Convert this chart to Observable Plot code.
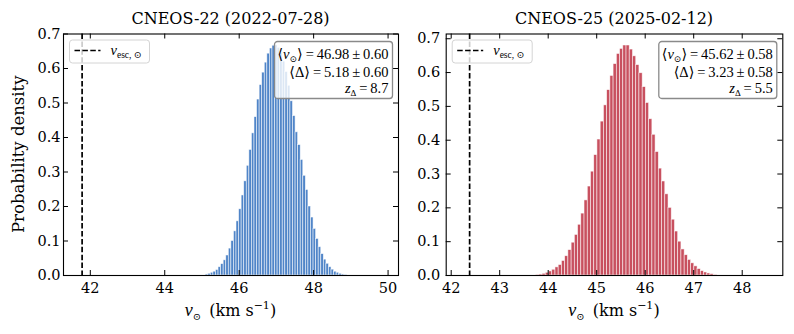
<!DOCTYPE html>
<html><head><meta charset="utf-8">
<script src="https://cdn.jsdelivr.net/npm/d3@7"></script>
<script src="https://cdn.jsdelivr.net/npm/@observablehq/plot@0.6"></script>
<style>
body{margin:0;background:#fff;}
#wrap{position:relative;width:794px;height:334px;overflow:hidden;background:#fff;}
#wrap svg{position:absolute;top:0;overflow:visible;}
</style></head><body><div id="wrap"></div>
<script>
// ---------- data ----------
const titles = ["CNEOS-22 (2022-07-28)", "CNEOS-25 (2025-02-12)"];

const edges22 = [45.100, 45.169, 45.238, 45.307, 45.376, 45.445, 45.514, 45.583, 45.652, 45.721,
  45.790, 45.859, 45.928, 45.997, 46.066, 46.135, 46.204, 46.273, 46.342, 46.411,
  46.480, 46.549, 46.618, 46.687, 46.756, 46.825, 46.894, 46.963, 47.032, 47.101,
  47.170, 47.239, 47.308, 47.377, 47.446, 47.515, 47.584, 47.653, 47.722, 47.791,
  47.860, 47.929, 47.998, 48.067, 48.136, 48.205, 48.274, 48.343, 48.412, 48.481,
  48.550, 48.619, 48.688, 48.757, 48.826, 48.895];
const density22 = [0.003, 0.005, 0.008, 0.011, 0.016, 0.024, 0.033, 0.044, 0.058, 0.078,
  0.100, 0.128, 0.157, 0.192, 0.232, 0.273, 0.318, 0.364, 0.412, 0.459,
  0.510, 0.552, 0.588, 0.617, 0.643, 0.658, 0.666, 0.667, 0.660, 0.645,
  0.620, 0.590, 0.550, 0.505, 0.462, 0.415, 0.378, 0.335, 0.289, 0.248,
  0.200, 0.168, 0.135, 0.106, 0.082, 0.062, 0.046, 0.034, 0.024, 0.017,
  0.011, 0.008, 0.005, 0.003, 0.002];

const edges25 = [43.750, 43.817, 43.883, 43.950, 44.016, 44.083, 44.150, 44.216, 44.283, 44.349,
  44.416, 44.483, 44.549, 44.616, 44.682, 44.749, 44.816, 44.882, 44.949, 45.015,
  45.082, 45.149, 45.215, 45.282, 45.348, 45.415, 45.482, 45.548, 45.615, 45.681,
  45.748, 45.815, 45.881, 45.948, 46.014, 46.081, 46.148, 46.214, 46.281, 46.347,
  46.414, 46.481, 46.547, 46.614, 46.680, 46.747, 46.814, 46.880, 46.947, 47.013,
  47.080, 47.147, 47.213, 47.280, 47.346, 47.413, 47.480];
const density25 = [0.002, 0.003, 0.005, 0.008, 0.012, 0.017, 0.024, 0.031, 0.043, 0.057,
  0.075, 0.097, 0.120, 0.150, 0.183, 0.222, 0.263, 0.307, 0.356, 0.402,
  0.455, 0.503, 0.548, 0.590, 0.625, 0.655, 0.670, 0.680, 0.680, 0.668,
  0.648, 0.622, 0.598, 0.557, 0.510, 0.462, 0.416, 0.365, 0.316, 0.278,
  0.240, 0.200, 0.165, 0.130, 0.100, 0.077, 0.060, 0.046, 0.036, 0.027,
  0.019, 0.013, 0.009, 0.006, 0.004, 0.002];

const vEsc = [41.78, 42.38];
const xTicks22 = [42, 44, 46, 48, 50];
const xTicks25 = [42, 43, 44, 45, 46, 47, 48];
const yTicks = [0.0, 0.1, 0.2, 0.3, 0.4, 0.5, 0.6, 0.7];
const meanV = ["46.98", "45.62"];
const errV = ["0.60", "0.58"];
const meanDelta = ["5.18", "3.23"];
const errDelta = ["0.60", "0.58"];
const zDelta = ["8.7", "5.5"];

// ---------- layout ----------
const H = 334, mT = 33.5, mB = 59;
const panels = [
  {left: 0, width: 420, mL: 63, mR: 22, xDomain: [41.28, 50.28], yDomain: [0, 0.700],
   edges: edges22, dens: density22, fill: "#5085c8", xTicks: xTicks22, pad: 3, ylabel: true},
  {left: 400, width: 394, mL: 45.7, mR: 11.7, xDomain: [41.897, 48.837], yDomain: [0, 0.714],
   edges: edges25, dens: density25, fill: "#c8505f", xTicks: xTicks25, pad: 6, ylabel: false}
];

const wrap = document.getElementById("wrap");
const MATH = "'Liberation Serif', 'DejaVu Serif', serif";

panels.forEach((p, i) => {
  const bars = p.dens.map((d, k) => ({x1: p.edges[k], x2: p.edges[k + 1], y: d}));
  const fh = H - mT - mB;
  const fw = p.width - p.mL - p.mR;
  const chart = Plot.plot({
    width: p.width, height: H,
    marginLeft: p.mL, marginRight: p.mR, marginTop: mT, marginBottom: mB,
    x: {domain: p.xDomain},
    y: {domain: p.yDomain},
    style: {fontFamily: "'DejaVu Serif', serif", fontSize: "14.5px", background: "transparent", color: "black", overflow: "visible"},
    marks: [
      Plot.rectY(bars, {x1: "x1", x2: "x2", y: "y", fill: p.fill, stroke: "white", strokeWidth: 0.7, strokeOpacity: 0.75}),
      Plot.ruleX([vEsc[i]], {stroke: "black", strokeWidth: 1.7, strokeDasharray: "5.5,2.4"}),
      Plot.tickX(p.xTicks, {x: d => d, insetTop: fh - 5, stroke: "black"}),
      Plot.tickX(p.xTicks, {x: d => d, insetBottom: fh - 5, stroke: "black"}),
      Plot.tickY(yTicks, {y: d => d, insetRight: fw - 5, stroke: "black"}),
      Plot.tickY(yTicks, {y: d => d, insetLeft: fw - 5, stroke: "black"}),
      Plot.frame({stroke: "black", strokeWidth: 1.1}),
      Plot.axisX(p.xTicks, {tickSize: 0, tickPadding: 7, tickFormat: d => String(d), label: null, fontSize: 14.5}),
      Plot.axisY(yTicks, {tickSize: 0, tickPadding: p.pad, tickFormat: d => d.toFixed(1), label: null, fontSize: 14.5})
    ]
  });
  chart.style.left = p.left + "px";
  wrap.appendChild(chart);

  const svg = d3.select(chart);
  const fx0 = p.mL, fx1 = p.width - p.mR, fy0 = mT, fy1 = H - mB;
  const cx = (fx0 + fx1) / 2;

  // title
  svg.append("text").attr("x", cx).attr("y", 24).attr("text-anchor", "middle")
    .attr("font-family", "'DejaVu Serif', serif").attr("font-size", 16).text(titles[i]);

  // x label
  const xl = svg.append("text").attr("x", cx).attr("y", 316).attr("text-anchor", "middle")
    .attr("font-size", 16).attr("font-family", "'DejaVu Serif', serif");
  xl.append("tspan").attr("font-family", MATH).attr("font-style", "italic").attr("font-size", 18).text("v");
  xl.append("tspan").attr("font-size", 10).attr("dy", 4).text("\u2299");
  xl.append("tspan").attr("dy", -4).text("\u2002(km s");
  xl.append("tspan").attr("font-size", 11).attr("dy", -7).text("\u22121");
  xl.append("tspan").attr("dy", 7).text(")");

  // y label
  if (p.ylabel) {
    svg.append("text").attr("transform", `translate(24,${(fy0 + fy1) / 2}) rotate(-90)`)
      .attr("text-anchor", "middle").attr("font-family", "'DejaVu Serif', serif")
      .attr("font-size", 16.5).text("Probability density");
  }

  // legend box
  const lg = svg.append("g").attr("transform", `translate(${fx0 + 6.5},${fy0 + 6.5})`);
  lg.append("rect").attr("width", 80).attr("height", 23).attr("rx", 3)
    .attr("fill", "white").attr("fill-opacity", 0.8).attr("stroke", "#d4d4d4").attr("stroke-width", 1);
  lg.append("line").attr("x1", 5).attr("x2", 31).attr("y1", 10.5).attr("y2", 10.5)
    .attr("stroke", "black").attr("stroke-width", 1.7).attr("stroke-dasharray", "5.5,2.4");
  const lt = lg.append("text").attr("x", 41).attr("y", 14.5).attr("text-anchor", "start").attr("font-family", MATH);
  lt.append("tspan").attr("font-style", "italic").attr("font-size", 14.5).text("v");
  lt.append("tspan").attr("font-size", 9.5).attr("dy", 3).text("esc, \u2299");

  // stats box
  const bw = 118, bh = 57;
  const sg = svg.append("g").attr("transform", `translate(${fx1 - 5.5 - bw},${fy0 + 8})`);
  sg.append("rect").attr("width", bw).attr("height", bh).attr("rx", 3)
    .attr("fill", "white").attr("fill-opacity", 0.8).attr("stroke", "#8a8a8a").attr("stroke-width", 1.3);
  const tx = bw - 4, fs = 14.5;
  const l1 = sg.append("text").attr("x", tx).attr("y", 17.5).attr("text-anchor", "end").attr("font-family", MATH).attr("font-size", fs);
  l1.append("tspan").text("\u27E8");
  l1.append("tspan").attr("font-style", "italic").text("v");
  l1.append("tspan").attr("font-size", 9).attr("dy", 3).text("\u2299");
  l1.append("tspan").attr("dy", -3).text("\u27E9");
  l1.append("tspan").text(`\u2009=\u2009${meanV[i]}\u2009\u00B1\u2009${errV[i]}`);
  const l2 = sg.append("text").attr("x", tx).attr("y", 35.5).attr("text-anchor", "end").attr("font-family", MATH).attr("font-size", fs);
  l2.append("tspan").text("\u27E8\u0394\u27E9");
  l2.append("tspan").text(`\u2009=\u2009${meanDelta[i]}\u2009\u00B1\u2009${errDelta[i]}`);
  const l3 = sg.append("text").attr("x", tx).attr("y", 51.5).attr("text-anchor", "end").attr("font-family", MATH).attr("font-size", fs);
  l3.append("tspan").attr("font-style", "italic").text("z");
  l3.append("tspan").attr("font-size", 9).attr("dy", 3).text("\u0394");
  l3.append("tspan").attr("dy", -3).text(`\u2009=\u2009${zDelta[i]}`);
});
</script>
</body></html>
